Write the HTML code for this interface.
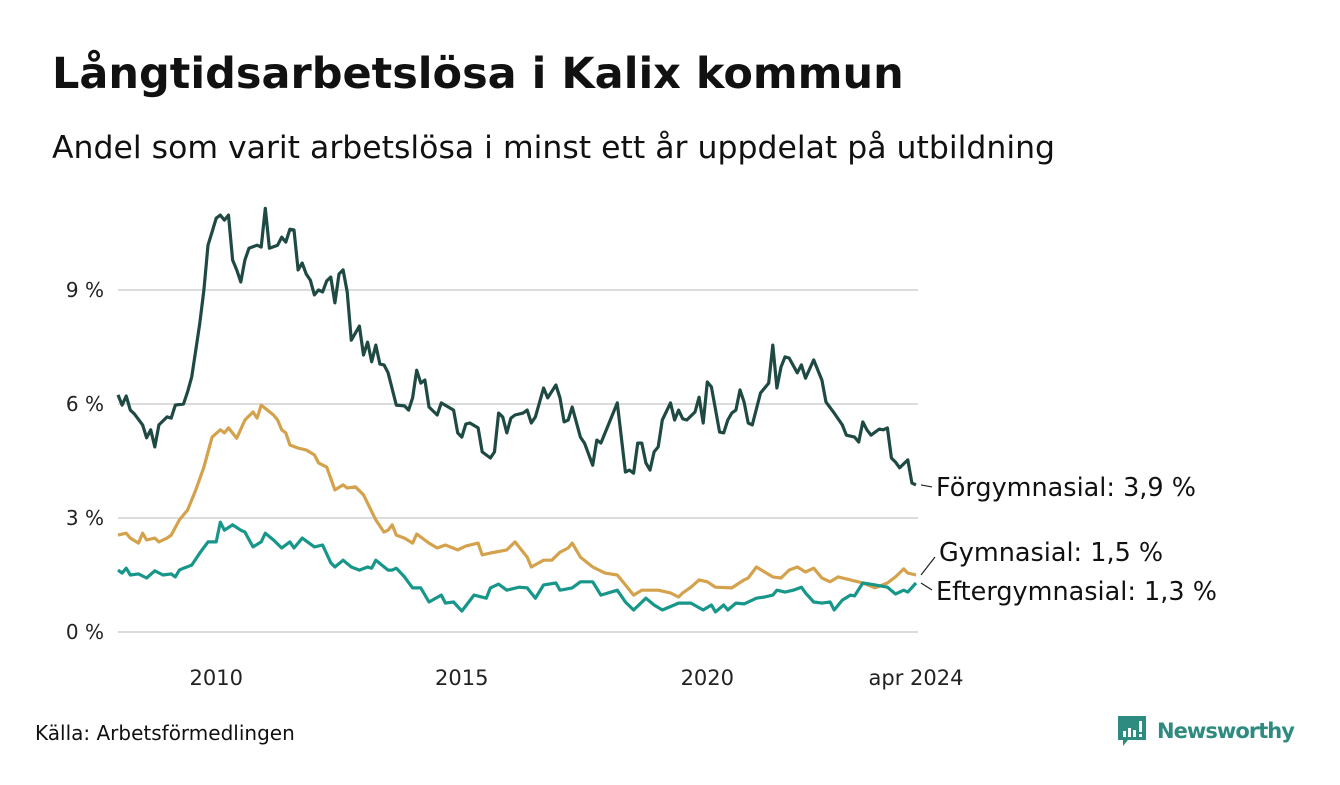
<!DOCTYPE html>
<html><head><meta charset="utf-8">
<style>
body{margin:0;background:#fff;width:1340px;height:780px;overflow:hidden;font-family:"Liberation Sans","DejaVu Sans",sans-serif;}
svg text{font-family:"DejaVu Sans","Liberation Sans",sans-serif;}
</style></head>
<body>
<svg id="chart" width="1340" height="780">
  <text x="52" y="88" font-size="43" font-weight="bold" fill="#111">Långtidsarbetslösa i Kalix kommun</text>
  <text x="52" y="158" font-size="31.5" fill="#111">Andel som varit arbetslösa i minst ett år uppdelat på utbildning</text>
  <g id="grid"></g>
  <g id="yaxis"></g>
  <g id="xaxis"></g>
  <g id="lines"></g>
  <g id="labels"></g>
  <text x="35" y="740" font-size="20" fill="#111">Källa: Arbetsförmedlingen</text>
  <g>
    <path d="M1118 716 h28 v24 h-18 l-5 6 v-6 h-5 z" fill="#2e8b7f"/>
    <rect x="1123" y="731" width="3" height="6" fill="#fff"/>
    <rect x="1128" y="728" width="3" height="9" fill="#fff"/>
    <rect x="1133" y="730" width="3" height="7" fill="#fff"/>
    <rect x="1139" y="721" width="3" height="11" fill="#fff"/>
    <rect x="1139" y="734" width="3" height="3" fill="#fff"/>
    <text x="1157" y="738" font-size="21" font-weight="bold" fill="#2e8b7f" textLength="138">Newsworthy</text>
  </g>
</svg>
<script>
// months since Jan 2008
const forMonths=[0,1,2,3,4,6,7,8,9,10,12,13,14,16,17,18,19,20,21,22,23,24,25,26,27,28,29,30,31,32,34,35,36,37,39,40,41,42,43,44,45,46,47,48,49,50,51,52,53,54,55,56,57,59,60,61,62,63,64,65,66,68,70,71,72,73,74,75,76,78,79,82,83,84,85,86,88,89,91,92,93,94,95,96,97,99,100,101,102,104,105,107,108,109,110,111,113,114,116,117,118,120,122,124,125,126,127,128,129,130,131,132,133,135,136,137,138,139,141,142,143,144,145,147,148,149,150,151,152,153,154,155,157,159,160,161,162,163,164,166,167,168,170,172,173,175,177,178,180,181,182,183,184,186,187,188,189,190,191,193,194,195];
const forValues=[6.24,5.97,6.21,5.84,5.74,5.45,5.11,5.32,4.87,5.45,5.66,5.63,5.97,6.0,6.32,6.71,7.42,8.13,9.0,10.18,10.53,10.89,10.97,10.84,10.97,9.79,9.53,9.21,9.79,10.1,10.18,10.13,11.15,10.1,10.18,10.39,10.26,10.6,10.58,9.53,9.71,9.42,9.26,8.87,9.0,8.95,9.24,9.34,8.66,9.42,9.53,8.95,7.68,8.05,7.29,7.63,7.11,7.55,7.05,7.03,6.82,5.97,5.95,5.84,6.16,6.89,6.55,6.63,5.92,5.71,6.03,5.84,5.24,5.13,5.47,5.5,5.37,4.74,4.58,4.74,5.76,5.66,5.24,5.63,5.71,5.76,5.84,5.5,5.66,6.42,6.16,6.5,6.16,5.53,5.58,5.92,5.13,4.97,4.39,5.05,4.97,5.5,6.03,4.21,4.26,4.18,4.97,4.97,4.45,4.26,4.74,4.87,5.58,6.03,5.58,5.84,5.61,5.58,5.79,6.18,5.5,6.58,6.45,5.26,5.24,5.58,5.76,5.84,6.37,6.05,5.5,5.45,6.29,6.55,7.55,6.42,6.97,7.24,7.21,6.82,7.03,6.68,7.16,6.63,6.05,5.76,5.45,5.18,5.13,5.0,5.53,5.32,5.18,5.34,5.32,5.37,4.58,4.47,4.32,4.53,3.92,3.87];
const gymMonths=[0,2,3,5,6,7,9,10,12,13,15,17,19,21,23,25,26,27,29,31,33,34,35,38,39,40,41,42,44,46,48,49,51,53,55,56,58,60,61,63,65,66,67,68,70,72,73,76,78,80,83,85,88,89,91,95,97,100,101,104,106,108,110,111,113,116,119,122,124,126,128,130,132,135,137,138,140,142,144,146,150,153,154,156,158,160,162,164,166,168,170,172,174,176,179,182,185,188,190,192,193,195];
const gymValues=[2.55,2.6,2.47,2.34,2.6,2.42,2.47,2.37,2.47,2.55,2.95,3.21,3.74,4.34,5.13,5.32,5.24,5.37,5.1,5.58,5.79,5.63,5.97,5.71,5.58,5.32,5.24,4.92,4.84,4.79,4.66,4.45,4.34,3.74,3.87,3.79,3.82,3.61,3.39,2.95,2.63,2.68,2.82,2.55,2.47,2.34,2.58,2.34,2.21,2.29,2.16,2.26,2.34,2.03,2.08,2.16,2.37,1.97,1.71,1.89,1.89,2.1,2.21,2.34,1.97,1.71,1.55,1.5,1.24,0.97,1.1,1.1,1.1,1.03,0.92,1.03,1.18,1.37,1.32,1.18,1.16,1.37,1.42,1.71,1.58,1.45,1.42,1.63,1.71,1.58,1.68,1.42,1.32,1.45,1.37,1.29,1.16,1.29,1.45,1.66,1.55,1.5];
const eftMonths=[0,1,2,3,5,7,9,11,13,14,15,16,18,20,22,24,25,26,28,30,31,33,35,36,38,40,42,43,45,48,50,52,53,55,57,59,61,62,63,66,67,68,70,72,74,76,79,80,82,84,87,90,91,93,95,98,100,102,104,107,108,111,113,116,118,122,124,126,129,131,133,137,140,143,145,146,148,149,151,153,156,158,160,161,163,165,167,168,170,172,174,175,177,179,180,182,185,188,190,192,193,195];
const eftValues=[1.63,1.55,1.68,1.5,1.53,1.42,1.61,1.5,1.53,1.45,1.63,1.68,1.76,2.08,2.37,2.37,2.89,2.68,2.82,2.68,2.63,2.24,2.37,2.6,2.42,2.21,2.37,2.21,2.47,2.24,2.29,1.82,1.71,1.89,1.71,1.63,1.71,1.68,1.89,1.63,1.63,1.68,1.45,1.16,1.16,0.79,0.97,0.76,0.79,0.55,0.97,0.89,1.16,1.26,1.1,1.18,1.16,0.89,1.24,1.29,1.1,1.16,1.32,1.32,0.97,1.1,0.79,0.58,0.89,0.71,0.58,0.76,0.76,0.58,0.71,0.53,0.71,0.58,0.76,0.74,0.89,0.92,0.97,1.1,1.05,1.1,1.18,1.03,0.79,0.76,0.79,0.58,0.84,0.97,0.95,1.29,1.24,1.18,1.0,1.1,1.05,1.29];
const yTicks=[0,3,6,9];
const yTickLabels=["0 %","3 %","6 %","9 %"];
const xTicks=[24,84,144,195];
const xTickLabels=["2010","2015","2020","apr 2024"];
const seriesNames=["Förgymnasial","Gymnasial","Eftergymnasial"];

const NS="http://www.w3.org/2000/svg";
const x=m=>118+m*(916-118)/195;
const y=v=>632-v*38;
function mk(tag,attrs,parent){const e=document.createElementNS(NS,tag);for(const k in attrs)e.setAttribute(k,attrs[k]);parent.appendChild(e);return e;}
const grid=document.getElementById('grid'),ya=document.getElementById('yaxis'),xa=document.getElementById('xaxis'),lines=document.getElementById('lines'),labels=document.getElementById('labels');
yTicks.forEach((t,i)=>{
  const l=mk('line',{x1:118,x2:918,y1:y(t),y2:y(t),stroke:'#dcdcdc','stroke-width':2},grid);
  
  
  const tx=mk('text',{x:104,y:y(t)+7,'text-anchor':'end','font-size':20,fill:'#222'},ya);
  tx.textContent=yTickLabels[i];
  
  
});
xTicks.forEach((t,i)=>{
  const tx=mk('text',{x:x(t),y:685,'text-anchor':'middle','font-size':21,fill:'#222'},xa);
  tx.textContent=xTickLabels[i];
  
  
});
const series=[[forMonths,forValues,'#1f4a43'],[gymMonths,gymValues,'#d4a24c'],[eftMonths,eftValues,'#17968a']];
series.forEach((s,si)=>{
  const d=s[0].map((m,i)=>(i?'L':'M')+x(m).toFixed(1)+' '+y(s[1][i]).toFixed(1)).join(' ');
  const p=mk('path',{d:d,fill:'none',stroke:s[2],'stroke-width':3.2,'stroke-linejoin':'round'},lines);
  
  
});
function last(a){return a[a.length-1];}
const fmt=v=>v.toFixed(1).replace('.',',')+' %';
const ends=[[y(last(forValues)),y(last(forValues))+2,936,496],[y(last(gymValues)),557,939,561],[y(last(eftValues)),590,936,600]];
ends.forEach((e,i)=>{
  const ln=mk('line',{x1:921,y1:e[0],x2:e[2]-4,y2:e[1],stroke:'#222','stroke-width':1.2},labels);
  
  
  const tx=mk('text',{x:e[2],y:e[3],'font-size':25.5,fill:'#111'},labels);
  tx.textContent=seriesNames[i]+': '+fmt(last([forValues,gymValues,eftValues][i]));
  
  
});
</script>
</body></html>
